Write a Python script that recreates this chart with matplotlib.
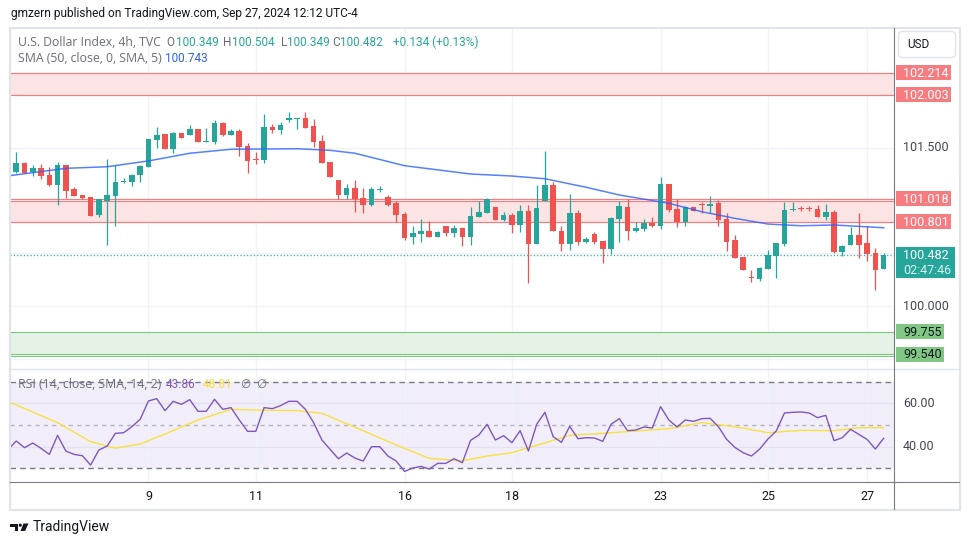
import matplotlib
matplotlib.use('Agg')
import matplotlib.pyplot as plt
from matplotlib.patches import Rectangle, FancyBboxPatch, Polygon, Circle
from matplotlib.lines import Line2D
from matplotlib.transforms import IdentityTransform
import numpy as np

plt.rcParams['font.family'] = ['Roboto', 'DejaVu Sans']

# ---- data (4h candles, Sep 6 - Sep 27 2024) ----
opens = [101.275, 101.361, 101.272, 101.310, 101.244, 101.149, 101.339, 101.111, 101.054, 101.035,
         100.864, 100.997, 101.044, 101.177, 101.177, 101.244, 101.320, 101.576, 101.633, 101.491,
         101.643, 101.624, 101.681, 101.557, 101.557, 101.738, 101.624, 101.662, 101.519, 101.396,
         101.386, 101.700, 101.671, 101.766, 101.776, 101.785, 101.709, 101.567, 101.367, 101.196,
         101.054, 101.120, 101.025, 100.959, 101.101, 101.035, 100.978, 100.873, 100.655, 100.683,
         100.712, 100.655, 100.759, 100.693, 100.740, 100.655, 100.845, 100.883, 100.940, 100.816,
         100.864, 100.769, 100.902, 100.588, 100.997, 101.149, 100.712, 100.588, 100.883, 100.607,
         100.683, 100.617, 100.541, 100.826, 100.940, 100.712, 100.731, 100.788, 100.759, 101.158,
         100.921, 100.797, 100.940, 100.968, 100.949, 100.978, 100.826, 100.626, 100.465, 100.275,
         100.256, 100.351, 100.474, 100.588, 100.911, 100.930, 100.930, 100.921, 100.845, 100.892,
         100.512, 100.579, 100.674, 100.598, 100.503, 100.349]
highs = [101.465, 101.370, 101.339, 101.348, 101.316, 101.367, 101.339, 101.127, 101.054, 101.035,
         101.016, 101.396, 101.335, 101.215, 101.253, 101.339, 101.586, 101.700, 101.633, 101.652,
         101.643, 101.719, 101.681, 101.690, 101.766, 101.747, 101.681, 101.681, 101.548, 101.462,
         101.823, 101.728, 101.747, 101.842, 101.785, 101.842, 101.776, 101.624, 101.367, 101.196,
         101.158, 101.196, 101.120, 101.130, 101.139, 101.054, 100.997, 100.892, 100.759, 100.826,
         100.807, 100.712, 100.759, 100.769, 100.750, 100.940, 100.997, 101.025, 100.940, 100.892,
         100.883, 100.959, 100.959, 101.149, 101.472, 101.177, 100.759, 101.063, 100.911, 100.655,
         100.702, 100.617, 100.845, 100.997, 101.016, 100.797, 100.826, 100.845, 101.225, 101.158,
         101.016, 100.949, 100.940, 100.987, 101.044, 101.006, 100.883, 100.674, 100.465, 100.341,
         100.370, 100.531, 100.598, 100.987, 100.987, 100.949, 100.949, 100.959, 100.968, 100.911,
         100.579, 100.750, 100.883, 100.759, 100.550, 100.504]
lows = [101.266, 101.263, 101.234, 101.209, 101.139, 100.959, 101.025, 101.044, 101.013, 100.854,
        100.845, 100.579, 100.759, 101.168, 101.139, 101.177, 101.320, 101.500, 101.491, 101.453,
        101.595, 101.624, 101.557, 101.557, 101.538, 101.614, 101.624, 101.424, 101.263, 101.348,
        101.358, 101.643, 101.633, 101.747, 101.681, 101.690, 101.510, 101.358, 101.225, 101.016,
        101.016, 100.892, 100.883, 100.949, 101.082, 100.949, 100.797, 100.626, 100.588, 100.607,
        100.655, 100.655, 100.664, 100.655, 100.569, 100.579, 100.845, 100.883, 100.816, 100.807,
        100.693, 100.702, 100.218, 100.588, 100.997, 100.712, 100.522, 100.531, 100.579, 100.598,
        100.588, 100.408, 100.493, 100.607, 100.626, 100.702, 100.712, 100.750, 100.731, 100.892,
        100.750, 100.759, 100.902, 100.883, 100.883, 100.759, 100.522, 100.455, 100.341, 100.227,
        100.237, 100.351, 100.265, 100.569, 100.902, 100.902, 100.902, 100.845, 100.816, 100.503,
        100.474, 100.579, 100.455, 100.427, 100.151, 100.349]
closes = [101.361, 101.263, 101.310, 101.234, 101.149, 101.339, 101.095, 101.044, 101.025, 100.854,
          101.016, 101.054, 101.177, 101.187, 101.244, 101.332, 101.586, 101.624, 101.491, 101.643,
          101.595, 101.681, 101.557, 101.567, 101.738, 101.620, 101.662, 101.510, 101.377, 101.386,
          101.700, 101.671, 101.719, 101.785, 101.785, 101.690, 101.557, 101.358, 101.225, 101.054,
          101.120, 101.016, 100.959, 101.111, 101.111, 100.959, 100.864, 100.645, 100.693, 100.712,
          100.655, 100.702, 100.693, 100.740, 100.655, 100.854, 100.892, 101.016, 100.816, 100.864,
          100.769, 100.902, 100.588, 100.930, 101.149, 100.712, 100.588, 100.883, 100.607, 100.636,
          100.607, 100.541, 100.835, 100.949, 100.712, 100.740, 100.788, 100.759, 101.158, 100.911,
          100.797, 100.940, 100.902, 100.959, 100.968, 100.816, 100.607, 100.455, 100.341, 100.265,
          100.360, 100.484, 100.598, 100.911, 100.921, 100.921, 100.921, 100.845, 100.892, 100.512,
          100.569, 100.674, 100.579, 100.493, 100.341, 100.482]

# SMA(50) overlay, read at a few bars
sma_idx = [-1, 6, 11, 16, 21, 26, 34, 38, 41, 47, 55, 60, 64, 69, 73, 79, 83, 87, 91, 95, 99, 105]
sma_val = [101.235, 101.307, 101.322, 101.377, 101.450, 101.488, 101.493, 101.478, 101.450, 101.332,
           101.253, 101.234, 101.208, 101.127, 101.054, 100.975, 100.895, 100.832, 100.778, 100.762,
           100.769, 100.743]

# RSI(14), bars -1 .. 105
rsi = [38.77, 42.62, 39.54, 41.69, 39.23, 36.46, 45.23, 38.00, 36.46, 35.85, 31.54,
       38.46, 40.31, 46.15, 46.46, 49.23, 52.62, 61.08, 62.15, 56.62, 60.92,
       59.54, 61.69, 56.31, 56.31, 61.85, 57.23, 58.00, 52.31, 47.08, 47.08,
       58.00, 57.54, 58.92, 60.92, 60.92, 57.23, 51.08, 43.08, 38.77, 34.46,
       37.08, 34.77, 33.38, 40.00, 40.00, 35.69, 33.38, 28.62, 30.15, 30.92,
       29.69, 32.31, 32.31, 34.46, 32.62, 42.92, 45.38, 50.31, 43.08, 45.08,
       41.85, 47.38, 38.00, 50.31, 55.85, 44.62, 42.00, 49.38, 43.69, 44.15,
       44.00, 42.46, 50.31, 52.92, 47.38, 47.69, 49.08, 48.62, 58.46, 52.31,
       49.08, 52.31, 51.69, 52.92, 53.08, 49.23, 43.38, 39.69, 37.23, 35.69,
       38.92, 43.54, 47.23, 55.54, 55.85, 56.00, 55.54, 53.38, 54.46, 42.77,
       44.15, 48.00, 45.69, 43.38, 38.92, 43.85]
rsi_ma_idx = [-1, 5, 9, 12, 15, 18, 22, 26, 30, 34, 37, 42, 46, 50, 54, 57, 60, 63, 67, 71,
              75, 79, 83, 87, 91, 95, 99, 102, 105]
rsi_ma = [60.85, 51.08, 42.31, 39.38, 41.23, 45.85, 52.31, 57.23, 56.77, 56.62, 55.38, 47.38,
          40.77, 34.62, 33.54, 35.69, 37.23, 40.62, 45.23, 46.15, 47.23, 48.31, 51.08, 49.23,
          46.46, 47.54, 47.38, 48.77, 48.81]

# drawn zones / levels
zone_lo = [102.003, 100.801, 99.540]
zone_hi = [102.214, 100.997, 99.755]
zone_kind = ['red', 'red', 'green']
extra_levels = [101.018, 99.522]
extra_kind = ['red', 'green']
label_prices = [102.214, 102.003, 101.018, 100.801, 99.755, 99.540]
label_kind = ['red', 'red', 'red', 'red', 'green', 'green']
last_price = 100.482
countdown = '02:47:46'

day_ticks = [16, 29, 47, 60, 78, 91, 103]
day_labels = ['9', '11', '16', '18', '23', '25', '27']

# ---- colours ----
UP = '#26a69a'
DN = '#ef5350'
ZLINE = {'red': '#f77c80', 'green': '#7fc783'}
ZFILL = {'red': '#fce4e5', 'green': '#e5f3e6'}
GRID = '#f0f3fa'
AXC = '#787b86'
TXT = '#131722'
GREY = '#6a6d78'
WORDS = ['Open Sans', 'DejaVu Sans']

W, H = 970, 545
fig = plt.figure(figsize=(W / 100, H / 100), dpi=100)
PX = IdentityTransform()


def px_text(x, y, s, **kw):
    kw.setdefault('va', 'center')
    kw.setdefault('ha', 'left')
    fig.text(x, H - y, s, transform=PX, **kw)


def px_rect(x0, y0, x1, y1, **kw):
    fig.add_artist(Rectangle((x0, H - y1), x1 - x0, y1 - y0, transform=PX, **kw))


def px_line(x0, y0, x1, y1, **kw):
    fig.add_artist(Line2D([x0, x1], [H - y0, H - y1], transform=PX, **kw))


# main price pane and RSI pane (pixel layout of the screenshot)
ax = fig.add_axes([10 / W, 1 - 369 / H, 884 / W, 341 / H])
ax2 = fig.add_axes([10 / W, 1 - 482 / H, 884 / W, 113 / H], sharex=ax)

X0, X1 = -0.76, 106.26
P_TOP, P_BOT = 102.639, 99.402
ax.set_xlim(X0, X1)
ax.set_ylim(P_BOT, P_TOP)


def price_y(p):
    # pixel row of a price on the main pane
    return 28 + (P_TOP - p) / (P_TOP - P_BOT) * 341


for a in (ax, ax2):
    for s in a.spines.values():
        s.set_visible(False)
    a.tick_params(length=0)
    a.set_xticks(day_ticks)
    a.grid(axis='x', color=GRID, lw=1)
    a.set_yticklabels([])

ax.set_yticks([99.5, 100.0, 100.5, 101.0, 101.5, 102.0])
ax.grid(axis='y', color=GRID, lw=1)
ax.tick_params(labelbottom=False)
ax.set_axisbelow(True)

# zones
for lo, hi, k in zip(zone_lo, zone_hi, zone_kind):
    ax.axhspan(lo, hi, color=ZFILL[k], lw=0, zorder=1)
    ax.axhline(lo, color=ZLINE[k], lw=0.85, zorder=2)
    ax.axhline(hi, color=ZLINE[k], lw=0.85, zorder=2)
for p, k in zip(extra_levels, extra_kind):
    ax.axhline(p, color=ZLINE[k], lw=0.85, zorder=2)

# candles
o = np.array(opens)
h = np.array(highs)
l = np.array(lows)
c = np.array(closes)
x = np.arange(len(o))
cols = np.where(c >= o, UP, DN)
ax.vlines(x, l, h, colors=cols, lw=0.9, zorder=3)
ax.bar(x, np.maximum(np.abs(c - o), 0.009), bottom=np.minimum(o, c), width=0.68,
       color=cols, lw=0, zorder=4)

ax.plot(sma_idx, sma_val, color='#2962ff', lw=1.1, zorder=5, alpha=0.8)
ax.axhline(last_price, color=UP, lw=1, ls=(0, (0.8, 1.6)), zorder=2)

# RSI pane
R_TOP, R_BOT = 75.81, 23.73
ax2.set_ylim(R_BOT, R_TOP)
ax2.set_yticks([40, 60])
ax2.grid(axis='y', color='#e6e1f0', lw=1)
ax2.set_axisbelow(True)
ax2.axhspan(30, 70, color='#f2eef9', lw=0, zorder=0)
ax2.axhline(70, color=AXC, lw=1, dashes=(4, 3))
ax2.axhline(30, color=AXC, lw=1, dashes=(4, 3))
ax2.axhline(50, color='#b2b5be', lw=1, dashes=(3, 3))
ax2.plot(rsi_ma_idx, rsi_ma, color='#f7e13e', lw=1, zorder=3)
ax2.plot(np.arange(-1, len(rsi) - 1), rsi, color='#7e57c2', lw=1, zorder=4)
ax2.set_xticklabels(day_labels)
ax2.tick_params(axis='x', pad=6, labelsize=9, labelcolor=TXT)

# frame and separators
px_rect(9.5, 27.5, 959.5, 509.5, fill=False, ec='#e0e3eb', lw=1.5)
px_line(10, 369, 959, 369, color='#e0e3eb', lw=1)
px_line(10, 482, 959, 482, color=AXC, lw=0.8)
px_line(894, 28, 894, 509, color=AXC, lw=0.8)

# header
px_text(11, 14, 'gmzern published on TradingView.com, Sep 27, 2024 12:12 UTC-4',
        color=TXT, fontsize=8.6)

# legend lines
LEG = 8.5
WLEG = 8.85
px_text(18, 42, 'U.S. Dollar Index, 4h, TVC', color=GREY, fontsize=WLEG, family=WORDS)
for xs, s, col in [(166, 'O', GREY), (176, '100.349', UP), (223, 'H', GREY), (232, '100.504', UP),
                   (281, 'L', GREY), (287.5, '100.349', UP), (332.5, 'C', GREY), (340, '100.482', UP),
                   (393, '+0.134 (+0.13%)', UP)]:
    px_text(xs, 42, s, color=col, fontsize=LEG)
px_text(18, 59, 'SMA (50, close, 0, SMA, 5)', color=GREY, fontsize=WLEG, family=WORDS)
px_text(165.5, 59, '100.743', color='#2962ff', fontsize=LEG)

px_text(18, 385, 'RSI (14, close, SMA, 14, 2)', color=GREY, fontsize=WLEG, family=WORDS)
px_text(165.5, 385, '43.86', color='#7e57c2', fontsize=LEG)
px_text(203, 385, '48.81', color='#f7e13e', fontsize=LEG)
px_text(240, 385, '\u2205', color=GREY, fontsize=LEG)
px_text(256.5, 385, '\u2205', color=GREY, fontsize=LEG)

# price scale
fig.add_artist(FancyBboxPatch((898.5, H - 57.5), 57, 26, boxstyle='round,pad=0,rounding_size=4',
                              transform=PX, fc='white', ec='#e0e3eb', lw=1))
px_text(907, 44.5, 'USD', color=TXT, fontsize=8.5)
for tick in [101.5, 100.0]:
    px_text(903, price_y(tick), f'{tick:.3f}', color='#434651', fontsize=9)
for p, k in zip(label_prices, label_kind):
    yy = price_y(p)
    right = 951 if p >= 100 else 944
    fc = ZLINE[k]
    tc = 'white' if k == 'red' else TXT
    px_rect(895.5, yy - 7.5, right, yy + 7.5, fc=fc, ec='none')
    px_text(903, yy + 0.5, f'{p:.3f}', color=tc, fontsize=9)
yy = price_y(last_price)
px_rect(895.5, yy - 8, 955, yy + 22.5, fc=UP, ec='none')
px_text(903, yy + 0.5, f'{last_price:.3f}', color='white', fontsize=9)
px_text(903, yy + 15.5, countdown, color='#d6f2ef', fontsize=9)

# RSI scale
R_PX = 113 / (R_TOP - R_BOT)
for v in [60, 40]:
    px_text(903, 369 + (R_TOP - v) * R_PX, f'{v:.2f}', color='#434651', fontsize=9)

# TradingView logo
fig.add_artist(Polygon([(10, H - 523.5), (18, H - 523.5), (18, H - 531), (14.5, H - 531),
                        (14.5, H - 526.5), (10, H - 526.5)], closed=True, transform=PX,
                       fc=TXT, ec='none'))
fig.add_artist(Circle((20.3, H - 525.2), 1.6, transform=PX, fc=TXT, ec='none'))
fig.add_artist(Polygon([(23.5, H - 523.5), (28.5, H - 523.5), (25, H - 531), (20.5, H - 531)],
                       closed=True, transform=PX, fc=TXT, ec='none'))
px_text(32.5, 527, 'TradingView', color=TXT, fontsize=10)

fig.savefig('out.png', dpi=100, facecolor='white')
